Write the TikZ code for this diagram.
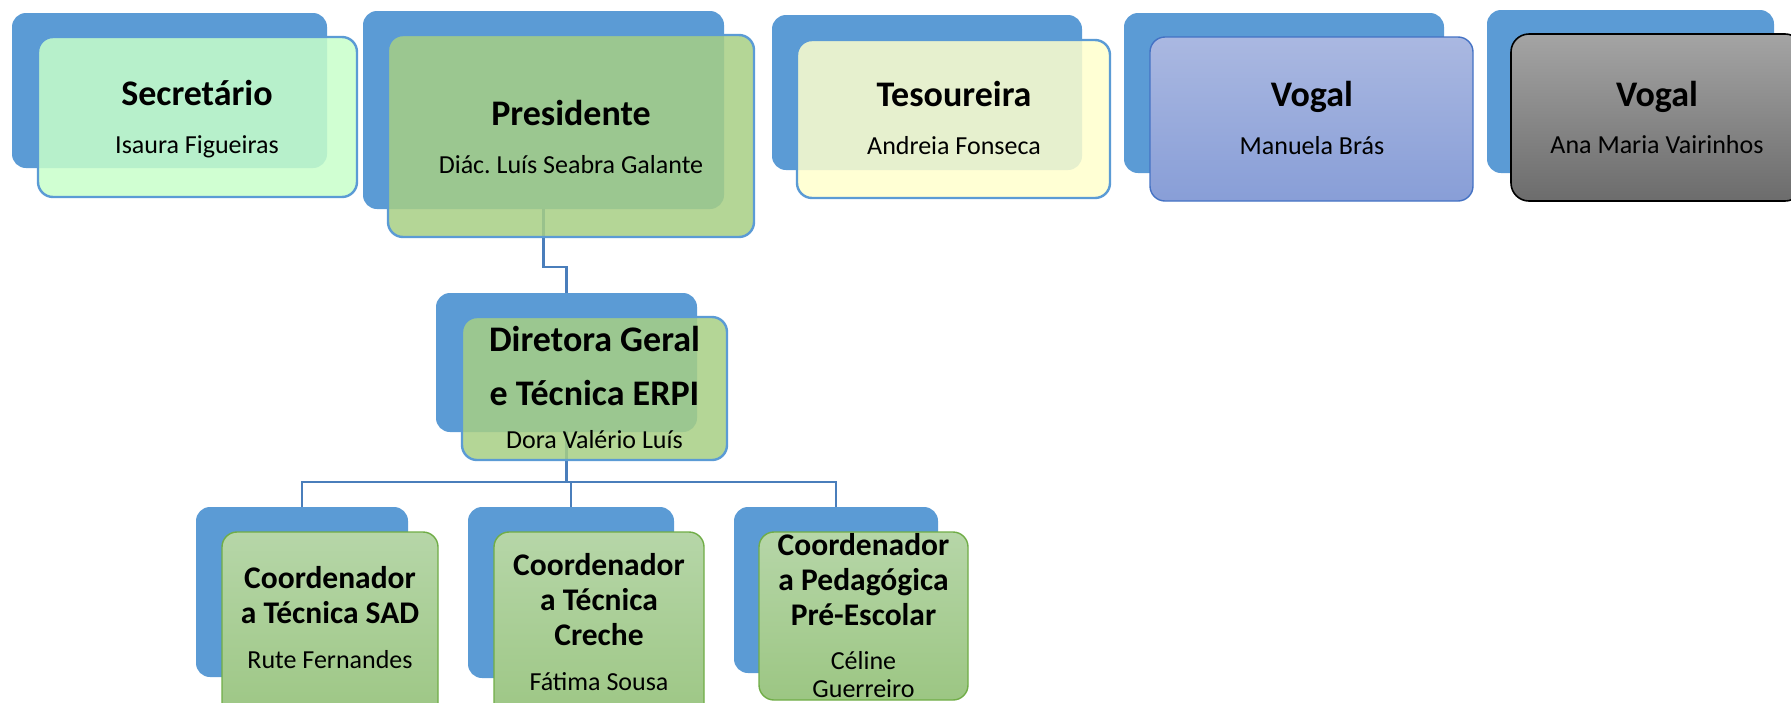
\documentclass[tikz,border=0pt]{standalone}
\usepackage{fontspec}
\setmainfont{Carlito}
\frenchspacing
\definecolor{backblue}{HTML}{5B9BD5}
\definecolor{connblue}{HTML}{4A7EBB}
\definecolor{secgreen}{HTML}{C8FFCA}
\definecolor{presgreen}{HTML}{A7CF84}
\definecolor{tesyellow}{HTML}{FFFFCD}
\definecolor{vtop}{HTML}{AAB8E1}
\definecolor{vbot}{HTML}{889ED7}
\definecolor{vborder}{HTML}{4472C4}
\definecolor{gtop}{HTML}{A4A4A4}
\definecolor{gbot}{HTML}{6C6C6C}
\definecolor{ctop}{HTML}{B6D6A8}
\definecolor{cbot}{HTML}{9CC683}
\definecolor{cborder}{HTML}{70AD47}
\begin{document}
\begin{tikzpicture}[x=1pt,y=-1pt,
  backbox/.style={fill=backblue, rounded corners=14pt, inner sep=0pt, outer sep=0pt},
  frontbox/.style={rounded corners=15pt, inner sep=0pt, outer sep=0pt, line width=2.4pt},
  glassbox/.style={frontbox, draw=backblue, fill opacity=0.85},
  conn/.style={draw=connblue, line width=2.5pt},
  title/.style={font=\fontsize{36}{40}\selectfont\bfseries, anchor=base, inner sep=0pt},
  ctitle/.style={font=\fontsize{31.5}{35}\selectfont\bfseries, anchor=base, inner sep=0pt},
  pname/.style={font=\fontsize{26}{30}\selectfont, anchor=base, inner sep=0pt}]
\useasboundingbox (0,0) rectangle (1791,702);
\clip (0,0) rectangle (1791,702);
% back boxes
\node[backbox, minimum width=315pt, minimum height=155pt] (secB) at (169.5,90.5) {};
\node[backbox, minimum width=361pt, minimum height=198pt] (presB) at (543.5,110) {};
\node[backbox, minimum width=310pt, minimum height=155pt] (tesB) at (927,92.5) {};
\node[backbox, minimum width=320pt, minimum height=160pt] (v1B) at (1284,93) {};
\node[backbox, minimum width=287pt, minimum height=163pt] (v2B) at (1630.5,91.5) {};
\node[backbox, minimum width=261pt, minimum height=139pt] (dirB) at (566.5,362.5) {};
\node[backbox, minimum width=212pt, minimum height=170pt] (c1B) at (302,592) {};
\node[backbox, minimum width=206pt, minimum height=171pt] (c2B) at (571,592.5) {};
\node[backbox, minimum width=204pt, minimum height=166pt] (c3B) at (836,590) {};
% connectors
\coordinate (j1) at (0,267);
\coordinate (j2) at (0,482);
\draw[conn] (presB.south) -- (presB.south |- j1) -| (dirB.north);
\draw[conn] (dirB.south) -- (dirB.south |- j2) -| (c1B.north);
\draw[conn] (dirB.south |- j2) -| (c3B.north);
\draw[conn] (dirB.south |- j2) -| (c2B.north);
% front boxes
\node[glassbox, fill=secgreen, minimum width=319pt, minimum height=160pt] (secF) at (197.5,117) {};
\node[glassbox, fill=presgreen, minimum width=366pt, minimum height=202pt] (presF) at (571,136) {};
\node[glassbox, fill=tesyellow, minimum width=313pt, minimum height=158pt] (tesF) at (953.5,119) {};
\node[frontbox, draw=vborder, line width=1.4pt, top color=vtop, bottom color=vbot, minimum width=323pt, minimum height=164pt] (v1F) at (1311.5,119) {};
\node[frontbox, draw=black, line width=1.6pt, top color=gtop, bottom color=gbot, rounded corners=18pt, minimum width=292pt, minimum height=167pt] (v2F) at (1657,117.5) {};
\node[glassbox, fill=presgreen, minimum width=265pt, minimum height=143pt] (dirF) at (594.5,388.5) {};
\node[frontbox, draw=cborder, line width=1.4pt, top color=ctop, bottom color=cbot, minimum width=216pt, minimum height=193pt] (c1F) at (330,628.5) {};
\node[frontbox, draw=cborder, line width=1.4pt, top color=ctop, bottom color=cbot, minimum width=210pt, minimum height=193pt] (c2F) at (599,628.5) {};
\node[frontbox, draw=cborder, line width=1.4pt, top color=ctop, bottom color=cbot, minimum width=209pt, minimum height=168pt] (c3F) at (863.5,616) {};
% texts
\node[title] (secT) at (197,105) {Secretário};
\node[pname] (secN) at (197,153) {Isaura Figueiras};
\node[title] (presT) at (571,125) {Presidente};
\node[pname] (presN) at (571,173) {Diác. Luís Seabra Galante};
\node[title] (tesT) at (954,106) {Tesoureira};
\node[pname] (tesN) at (954,154) {Andreia Fonseca};
\node[title] (v1T) at (1312,106) {Vogal};
\node[pname] (v1N) at (1312,154) {Manuela Brás};
\node[title] (v2T) at (1657,106) {Vogal};
\node[pname] (v2N) at (1657,153) {Ana Maria Vairinhos};
\node[title] (dirT1) at (594.5,351) {Diretora Geral};
\node[title] (dirT2) at (594.5,405) {e Técnica ERPI};
\node[pname] (dirN) at (594.5,448) {Dora Valério Luís};
\node[ctitle] (c1T1) at (330,588) {Coordenador};
\node[ctitle] (c1T2) at (330,623) {a Técnica SAD};
\node[pname] (c1N) at (330,668) {Rute Fernandes};
\node[ctitle] (c2T1) at (599,575) {Coordenador};
\node[ctitle] (c2T2) at (599,610) {a Técnica};
\node[ctitle] (c2T3) at (599,645) {Creche};
\node[pname] (c2N) at (599,690) {Fátima Sousa};
\node[ctitle] (c3T1) at (863.5,555) {Coordenador};
\node[ctitle] (c3T2) at (863.5,590) {a Pedagógica};
\node[ctitle] (c3T3) at (863.5,625) {Pré-Escolar};
\node[pname] (c3N1) at (863.5,669) {Céline};
\node[pname] (c3N2) at (863.5,697) {Guerreiro};
\end{tikzpicture}
\end{document}
